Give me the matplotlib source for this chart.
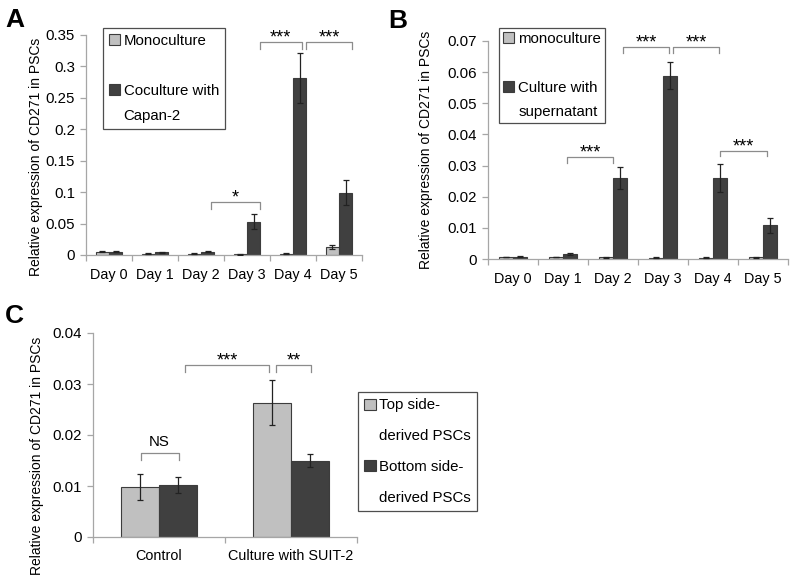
import numpy as np
import matplotlib
matplotlib.use("Agg")
import matplotlib.pyplot as plt
from matplotlib.patches import Patch

plt.rcParams['font.family'] = ['Liberation Sans', 'DejaVu Sans']

# ---------------- data ----------------
days = ["Day 0", "Day 1", "Day 2", "Day 3", "Day 4", "Day 5"]

a_mono = [0.005, 0.002, 0.002, 0.001, 0.002, 0.013]
a_mono_err = [0.001, 0.0005, 0.0005, 0.0003, 0.0005, 0.003]
a_co = [0.005, 0.004, 0.005, 0.053, 0.282, 0.099]
a_co_err = [0.001, 0.001, 0.001, 0.012, 0.040, 0.020]
a_labels = ["Monoculture", "Coculture with", "Capan-2"]
a_brackets = [(2.22, 3.28, 0.084, "*"), (3.28, 4.19, 0.339, "***"), (4.28, 5.28, 0.339, "***")]

b_mono = [0.0006, 0.0006, 0.0005, 0.0004, 0.0004, 0.0005]
b_mono_err = [0.0001, 0.0001, 0.0001, 0.0001, 0.0001, 0.0001]
b_sup = [0.0008, 0.0016, 0.026, 0.0588, 0.026, 0.0108]
b_sup_err = [0.0002, 0.0002, 0.0035, 0.0043, 0.0046, 0.0025]
b_labels = ["monoculture", "Culture with", "supernatant"]
b_brackets = [(1.08, 2.0, 0.0327, "***"), (2.2, 3.12, 0.068, "***"),
              (3.2, 4.12, 0.068, "***"), (4.14, 5.08, 0.0347, "***")]

c_groups = ["Control", "Culture with SUIT-2"]
c_top = [0.0098, 0.0263]
c_top_err = [0.0025, 0.0044]
c_bottom = [0.0102, 0.0150]
c_bottom_err = [0.0016, 0.0013]
c_labels = ["Top side-", "derived PSCs", "Bottom side-", "derived PSCs"]
c_brackets = [(-0.14, 0.15, 0.0165, "NS"), (0.20, 0.83, 0.0337, "***"), (0.89, 1.15, 0.0337, "**")]

ylabel = "Relative expression of CD271 in PSCs"

# ---------------- style ----------------
LIGHT = "#c0c0c0"
DARK = "#404040"
EDGE = "#3c3c3c"
AX = "#a6a6a6"
W = 0.285
FS = 10.8
XFS = 10.4

fig = plt.figure(figsize=(7.92, 5.80), dpi=100)
FW, FH = 792.0, 580.0


def axes_px(l, r, t, b):
    return fig.add_axes([l / FW, 1 - b / FH, (r - l) / FW, (b - t) / FH])


def style_axes(ax, cats, ymax, step, fmt):
    n = len(cats)
    ax.set_xlim(-0.5, n - 0.5)
    ax.set_ylim(0, ymax)
    for s in ["top", "right"]:
        ax.spines[s].set_visible(False)
    for s in ["left", "bottom"]:
        ax.spines[s].set_color(AX)
        ax.spines[s].set_linewidth(0.9)
    ax.set_xticks(np.arange(n))
    ax.set_xticklabels(cats, fontsize=XFS)
    ax.set_xticks(np.arange(n + 1) - 0.5, minor=True)
    ax.tick_params(axis="x", which="major", length=0, pad=9)
    ax.tick_params(axis="x", which="minor", length=4, color=AX, width=0.9, direction="out")
    yt = np.arange(0, ymax + step / 2, step)
    ax.set_yticks(yt)
    ax.set_yticklabels([fmt(v) for v in yt], fontsize=FS)
    ax.tick_params(axis="y", length=4, color=AX, width=0.9, pad=4)


def fmt_g(v):
    s = ("%.3f" % v).rstrip("0").rstrip(".")
    return "0" if s in ("0", "") else s


def draw_bars(ax, v1, e1, v2, e2):
    x = np.arange(len(v1))
    ax.bar(x - W / 2, v1, W, color=LIGHT, edgecolor=EDGE, linewidth=0.8, zorder=2)
    ax.bar(x + W / 2, v2, W, color=DARK, edgecolor=EDGE, linewidth=0.8, zorder=2)
    ax.errorbar(x - W / 2, v1, yerr=e1, fmt="none", ecolor="#222222", elinewidth=0.9, capsize=2, capthick=0.9, zorder=3)
    ax.errorbar(x + W / 2, v2, yerr=e2, fmt="none", ecolor="#222222", elinewidth=0.9, capsize=2, capthick=0.9, zorder=3)


def draw_brackets(ax, br, ymax, drop=0.03):
    for x1, x2, y, lab in br:
        d = drop * ymax
        ax.plot([x1, x1, x2, x2], [y - d, y, y, y - d], color="#8c8c8c", lw=0.9, zorder=4, clip_on=False)
        if lab == "NS":
            ax.annotate(lab, ((x1 + x2) / 2, y), xytext=(0, 5), textcoords="offset points",
                        ha="center", va="baseline", fontsize=FS, zorder=5)
        else:
            ax.annotate(lab, ((x1 + x2) / 2, y), xytext=(0, -0.5), textcoords="offset points",
                        ha="center", va="baseline", fontsize=13, zorder=5)


def make_legend(ax, labels, has_handle, colors, anchor_px, spacing, pad):
    handles = []
    for h, c in zip(has_handle, colors):
        if h:
            handles.append(Patch(facecolor=c, edgecolor=EDGE, linewidth=0.8))
        else:
            handles.append(Patch(facecolor="none", edgecolor="none"))
    leg = ax.legend(handles, labels, loc="upper left",
                    bbox_to_anchor=(anchor_px[0] / FW, 1 - anchor_px[1] / FH),
                    bbox_transform=fig.transFigure, borderaxespad=0,
                    fontsize=FS, frameon=True, fancybox=False, edgecolor="#222222",
                    handlelength=0.75, handleheight=0.75, handletextpad=0.25,
                    labelspacing=spacing, borderpad=pad)
    leg.get_frame().set_linewidth(0.9)
    return leg


# ---------------- Panel A ----------------
axA = axes_px(86, 362, 35, 255)
style_axes(axA, days, 0.35, 0.05, fmt_g)
draw_bars(axA, a_mono, a_mono_err, a_co, a_co_err)
draw_brackets(axA, a_brackets, 0.35)
make_legend(axA, [a_labels[0], " ", a_labels[1], a_labels[2]],
            [True, False, True, False], [LIGHT, "none", DARK, "none"], (103, 28), 0.74, 0.38)
axA.set_ylabel(ylabel, fontsize=10)
axA.yaxis.set_label_coords(-0.155, 0.445)

# ---------------- Panel B ----------------
axB = axes_px(488, 788, 41, 259)
style_axes(axB, days, 0.07, 0.01, fmt_g)
draw_bars(axB, b_mono, b_mono_err, b_sup, b_sup_err)
draw_brackets(axB, b_brackets, 0.07, drop=0.025)
make_legend(axB, [b_labels[0], " ", b_labels[1], b_labels[2]],
            [True, False, True, False], [LIGHT, "none", DARK, "none"], (499, 28), 0.68, 0.28)
axB.set_ylabel(ylabel, fontsize=10)
axB.yaxis.set_label_coords(-0.183, 0.5)

# ---------------- Panel C ----------------
axC = axes_px(93, 357, 333, 537)
style_axes(axC, c_groups, 0.04, 0.01, fmt_g)
draw_bars(axC, c_top, c_top_err, c_bottom, c_bottom_err)
draw_brackets(axC, c_brackets, 0.04, drop=0.034)
make_legend(axC, c_labels, [True, False, True, False], [LIGHT, "none", DARK, "none"], (358, 392), 1.13, 0.42)
axC.set_ylabel(ylabel, fontsize=10)
axC.yaxis.set_label_coords(-0.186, 0.40)

# panel letters
fig.text(5 / FW, 1 - 27 / FH, "A", fontsize=19, fontweight="bold", va="baseline", ha="left")
fig.text(388 / FW, 1 - 28 / FH, "B", fontsize=19, fontweight="bold", va="baseline", ha="left")
fig.text(5 / FW, 1 - 323 / FH, "C", fontsize=19, fontweight="bold", va="baseline", ha="left")

fig.savefig("out.png", dpi=100)
